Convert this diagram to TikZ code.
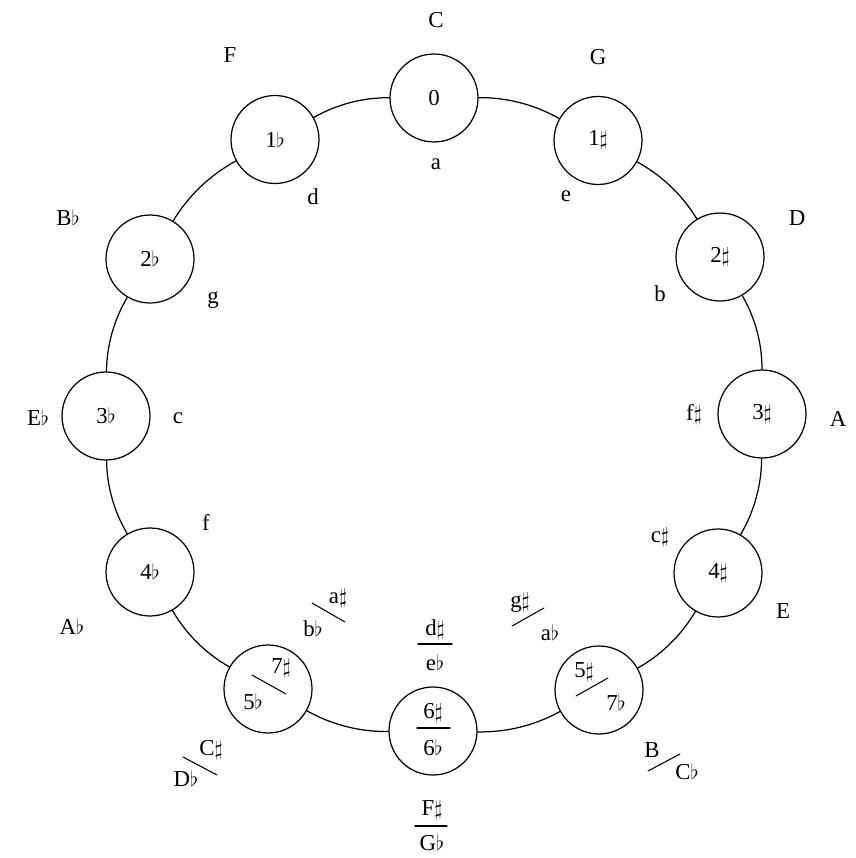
\documentclass[tikz,border=0pt]{standalone}
\usepackage{fontspec}
\setmainfont{Liberation Serif}
\usetikzlibrary{positioning}

\tikzset{
  tonart/.style={circle, draw, line width=0.7pt, minimum size=1.76cm, inner sep=0pt, fill=white},
  lab/.style={inner sep=1pt, font=\fontsize{13}{15}\selectfont},
  strich/.style={line width=0.6pt}
}

\begin{document}
\begin{tikzpicture}[x=0.02cm, y=-0.02cm, line cap=round]
    \useasboundingbox (0,0) rectangle (855,858);

    % Kreise der Tonarten
    \node[tonart] (nC)   at (434,98)    {};
    \node[tonart] (nG)   at (598,140.5) {};
    \node[tonart] (nD)   at (720,257)   {};
    \node[tonart] (nA)   at (762,414)   {};
    \node[tonart] (nE)   at (718,573)   {};
    \node[tonart] (nB)   at (599,690)   {};
    \node[tonart] (nFis) at (433,731)   {};
    \node[tonart] (nDes) at (268,689)   {};
    \node[tonart] (nAs)  at (150,572)   {};
    \node[tonart] (nEs)  at (106,416)   {};
    \node[tonart] (nBes) at (150,259)   {};
    \node[tonart] (nF)   at (275,139.5) {};

    % Kreisbogen zwischen den Kreisen
    \draw[line width=0.7pt] (nC)   to[bend left=15, looseness=0.87] (nG);
    \draw[line width=0.7pt] (nG)   to[bend left=15, looseness=0.87] (nD);
    \draw[line width=0.7pt] (nD)   to[bend left=15, looseness=0.87] (nA);
    \draw[line width=0.7pt] (nA)   to[bend left=15, looseness=0.87] (nE);
    \draw[line width=0.7pt] (nE)   to[bend left=15, looseness=0.87] (nB);
    \draw[line width=0.7pt] (nB)   to[bend left=15, looseness=0.87] (nFis);
    \draw[line width=0.7pt] (nFis) to[bend left=15, looseness=0.87] (nDes);
    \draw[line width=0.7pt] (nDes) to[bend left=15, looseness=0.87] (nAs);
    \draw[line width=0.7pt] (nAs)  to[bend left=15, looseness=0.87] (nEs);
    \draw[line width=0.7pt] (nEs)  to[bend left=15, looseness=0.87] (nBes);
    \draw[line width=0.7pt] (nBes) to[bend left=15, looseness=0.87] (nF);
    \draw[line width=0.7pt] (nF)   to[bend left=15, looseness=0.87] (nC);

    % Vorzeichen in den Kreisen
    \node[lab] (zC)   at (nC)   {0};
    \node[lab] (zG)   at (nG)   {1$\sharp$};
    \node[lab] (zD)   at (nD)   {2$\sharp$};
    \node[lab] (zA)   at (nA)   {3$\sharp$};
    \node[lab] (zE)   at (nE)   {4$\sharp$};
    \node[lab] (zAs)  at (nAs)  {4$\flat$};
    \node[lab] (zEs)  at (nEs)  {3$\flat$};
    \node[lab] (zBes) at (nBes) {2$\flat$};
    \node[lab] (zF)   at (nF)   {1$\flat$};
    % geteilte Kreise
    \node[lab] (zB1) at (584,672) {5$\sharp$};
    \node[lab] (zB2) at (616,703) {7$\flat$};
    \draw[strich] (576,696) -- (608,678);
    \node[lab] (zFis1) at (433,713) {6$\sharp$};
    \node[lab] (zFis2) at (433,748) {6$\flat$};
    \draw[strich] (417,728) -- (450,728);
    \node[lab] (zDes1) at (281,668) {7$\sharp$};
    \node[lab] (zDes2) at (253,702) {5$\flat$};
    \draw[strich] (252,675) -- (286,694);

    % Dur aussen
    \node[lab] (tC)   at (436,20)  {C};
    \node[lab] (tG)   at (598,57)  {G};
    \node[lab] (tD)   at (797,218) {D};
    \node[lab] (tA)   at (838,419) {A};
    \node[lab] (tE)   at (783,611) {E};
    \node[lab] (tB)   at (652,750) {B};
    \node[lab] (tCes) at (687,772) {C$\flat$};
    \draw[strich] (648,771) -- (680,754);
    \node[lab] (tFis) at (432,810) {F$\sharp$};
    \node[lab] (tGes) at (432,843) {G$\flat$};
    \draw[strich] (415,826) -- (447,826);
    \node[lab] (tCis) at (211,750) {C$\sharp$};
    \node[lab] (tDes) at (186,779) {D$\flat$};
    \draw[strich] (183,757) -- (217,775);
    \node[lab] (tAs)  at (72,627)  {A$\flat$};
    \node[lab] (tEs)  at (38,418)  {E$\flat$};
    \node[lab] (tBes) at (68,218)  {B$\flat$};
    \node[lab] (tF)   at (230,55)  {F};

    % moll innen
    \node[lab] (ma)   at (436,164) {a};
    \node[lab] (me)   at (566,196) {e};
    \node[lab] (mb)   at (660,294) {b};
    \node[lab] (mfis) at (694,415) {f$\sharp$};
    \node[lab] (mcis) at (660,537) {c$\sharp$};
    \node[lab] (mgis) at (520,603) {g$\sharp$};
    \node[lab] (mas)  at (550,633) {a$\flat$};
    \draw[strich] (512,626) -- (544,608);
    \node[lab] (mdis) at (435,630) {d$\sharp$};
    \node[lab] (mes)  at (435,663) {e$\flat$};
    \draw[strich] (418,644) -- (452,644);
    \node[lab] (mais) at (338,598) {a$\sharp$};
    \node[lab] (mbes) at (313,629) {b$\flat$};
    \draw[strich] (312,603) -- (345,622);
    \node[lab] (mf)   at (206,522) {f};
    \node[lab] (mc)   at (178,418) {c};
    \node[lab] (mg)   at (213,300) {g};
    \node[lab] (md)   at (313,197) {d};
\end{tikzpicture}
\end{document}
